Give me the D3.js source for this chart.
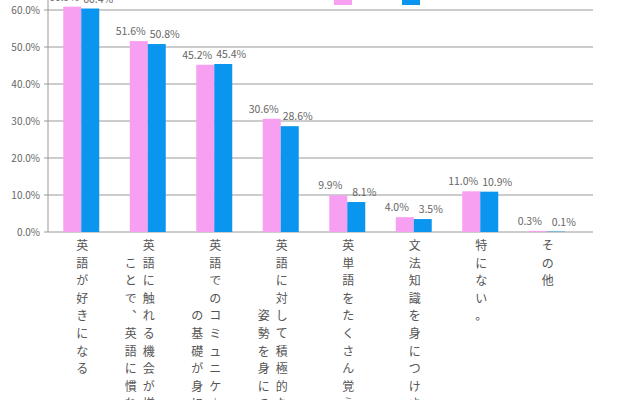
<!DOCTYPE html><html><head><meta charset="utf-8"><script src="https://cdn.jsdelivr.net/npm/d3@7"></script>
<style>body{margin:0;background:#fff}</style></head><body><svg id="c" width="640" height="400"></svg>
<script>
const categories=["英語が好きになる","英語に触れる機会が増えることで、英語に慣れさせる","英語でのコミュニケーションの基礎が身につく","英語に対して積極的な姿勢を身につける","英単語をたくさん覚える","文法知識を身につけさせる","特にない。","その他"];
const labelCols=[[["英語が好きになる",0]],[["英語に触れる機会が増え",0],["ことで、英語に慣れさせる",1]],[["英語でのコミュニケーション",0],["の基礎が身につく",4]],[["英語に対して積極的な",0],["姿勢を身につける",4]],[["英単語をたくさん覚える",0]],[["文法知識を身につけさせる",0]],[["特にない。",0]],[["その他",0]]];
const seriesA=[60.9,51.6,45.2,30.6,9.9,4.0,11.0,0.3];
const seriesB=[60.4,50.8,45.4,28.6,8.1,3.5,10.9,0.1];
const yTicks=[0,10,20,30,40,50,60];
const svg=d3.select("#c");
const x=d3.scaleBand().domain(d3.range(8)).range([48,580]);
const y=d3.scaleLinear().domain([0,60]).range([232,10]);
const font="'Noto Sans CJK JP', sans-serif";
svg.append("g").selectAll("line").data(yTicks).join("line").attr("x1",44).attr("x2",593).attr("y1",d=>y(d)).attr("y2",d=>y(d)).attr("stroke","#999");
svg.append("line").attr("x1",48).attr("x2",48).attr("y1",0).attr("y2",232).attr("stroke","#999");
svg.append("g").selectAll("text").data(yTicks).join("text").attr("x",40).attr("y",d=>y(d)+4).attr("text-anchor","end").attr("font-size",10).attr("fill","#666").attr("font-family",font).text(d=>d.toFixed(1)+"%");
const bw=18;
const c=i=>x(i)+x.bandwidth()/2;
svg.append("g").selectAll("rect").data(seriesA).join("rect").attr("x",(d,i)=>c(i)-bw).attr("width",bw).attr("y",d=>y(d)).attr("height",d=>232-y(d)).attr("fill","#f7a0f2");
svg.append("g").selectAll("rect").data(seriesB).join("rect").attr("x",(d,i)=>c(i)).attr("width",bw).attr("y",d=>y(d)).attr("height",d=>232-y(d)).attr("fill","#0a96ee");
const vl=(data,dx)=>svg.append("g").selectAll("text").data(data).join("text").attr("x",(d,i)=>c(i)+dx).attr("y",d=>y(d)-6).attr("text-anchor","middle").attr("font-size",10.5).attr("fill","#666").attr("font-family",font).text(d=>d.toFixed(1)+"%");
vl(seriesA,-17);vl(seriesB,17);
svg.append("rect").attr("x",334).attr("y",-4).attr("width",18).attr("height",9).attr("fill","#f7a0f2");
svg.append("rect").attr("x",402).attr("y",-4).attr("width",18).attr("height",9).attr("fill","#0a96ee");
labelCols.forEach((cols,i)=>{cols.forEach(([s,off],k)=>{
  Array.from(s).forEach((ch,j)=>{
    svg.append("text").attr("x",c(i)-k*18+1).attr("y",250+(j+off)*17.6).attr("text-anchor","middle").attr("font-size",12).attr("fill","#555").attr("font-family",font).text(ch==="、"?"︑":ch==="ー"?"︱":ch);
  });});});
</script></body></html>
